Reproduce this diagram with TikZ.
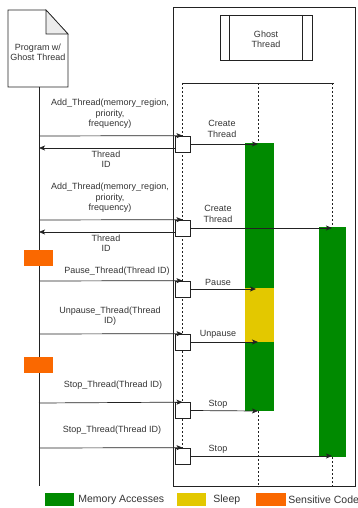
\documentclass[tikz,border=0pt]{standalone}
\usepackage{fontspec}
\setmainfont{Liberation Sans}
\usetikzlibrary{arrows.meta}
\definecolor{memgreen}{HTML}{008A00}
\definecolor{sleepyellow}{HTML}{E3C800}
\definecolor{sensorange}{HTML}{FA6800}
\definecolor{txt}{HTML}{333333}
\definecolor{ln}{HTML}{222222}
\begin{document}
\begin{tikzpicture}[x=1pt,y=-1pt,
  line width=0.7pt, draw=ln,
  msg/.style={draw=ln, -{Stealth[length=6pt,width=5pt,inset=1.5pt]}},
  lbl/.style={font=\fontsize{9}{10.4}\selectfont, text=txt, align=center, inner sep=0pt},
  leg/.style={font=\fontsize{10.5}{12}\selectfont, text=txt, anchor=west, inner sep=0pt},
  act/.style={draw=ln, fill=white, minimum width=15pt, minimum height=16pt, inner sep=0pt},
  life/.style={draw=ln, line width=0.6pt, dash pattern=on 2pt off 2pt},
  orangebox/.style={fill=sensorange, draw=none, minimum width=29pt, minimum height=16pt, inner sep=0pt}
]
\useasboundingbox (0,0) rectangle (357,508);

% program document shape
\draw[fill=white] (8,10) -- (46,10) -- (68,34) -- (68,87) -- (8,87) -- cycle;
\draw[fill=gray!15] (46,10) -- (46,34) -- (68,34) -- cycle;
\node[lbl] (prog) at (38,52.5) {Program w/\\Ghost Thread};
\coordinate (progtop) at (39,87);
\coordinate (progbot) at (39,486);
\draw (progtop) -- (progbot);

% ghost thread container
\draw (173.5,7) rectangle (355,486);
\draw (220,15) rectangle (312,60);
\draw (229,15) -- (229,60);
\draw (302,15) -- (302,60);
\node[lbl] (ghost) at (266,39) {Ghost\\Thread};
\draw (182,83) -- (334,83);

% dashed lifelines
\draw[life] (182,83) -- (182,456);
\draw[life] (258,83) -- (258,143);
\draw[life] (258,411) -- (258,487);
\draw[life] (332,83) -- (332,227);
\draw[life] (332,457) -- (332,487);

% bars
\fill[memgreen] (245,143) rectangle (274,411);
\fill[sleepyellow] (245,288) rectangle (274,342);
\fill[memgreen] (319,227) rectangle (346,457);

% target coordinates
\coordinate (t1) at (258,144);
\coordinate (t2) at (332,228);
\coordinate (t3) at (256,289);
\coordinate (t4) at (258,342);
\coordinate (t5) at (258,411);
\coordinate (t6) at (332,456);

% activation boxes
\node[act] (b1) at (182.5,144) {};
\node[act] (b2) at (182.5,228) {};
\node[act] (b3) at (182.5,289) {};
\node[act] (b4) at (182.5,342) {};
\node[act] (b5) at (182.5,410.5) {};
\node[act] (b6) at (182.5,456) {};

% program-side coordinates
\coordinate (p1) at (39,136);
\coordinate (p1r) at (39,148);
\coordinate (b1r) at (175,148);
\coordinate (p2) at (39,220);
\coordinate (p2r) at (39,232);
\coordinate (b2r) at (175,232);
\coordinate (p3) at (39,281);
\coordinate (p4) at (39,334);
\coordinate (p5) at (39,403);
\coordinate (p6) at (39,448);

% calls
\draw[msg] (p1) -- (b1.north);
\draw[msg] (b1r) -- (p1r);
\draw[msg] (p2) -- (b2.north);
\draw[msg] (b2r) -- (p2r);
\draw[msg] (p3) -- (b3.north);
\draw[msg] (p4) -- (b4.north);
\draw[msg] (p5) -- (b5.north);
\draw[msg] (p6) -- (b6.north);

% forwarded
\draw[msg] (b1.east) -- (t1);
\draw[msg] (b2.east) -- (t2);
\draw[msg] (b3.east) -- (t3);
\draw[msg] (b4.east) -- (t4);
\draw[msg] (b5.east) -- (t5);
\draw[msg] (b6.east) -- (t6);

% labels
\node[lbl] (l1) at (110,114) {Add\_Thread(memory\_region,\\priority,\\frequency)};
\node[lbl] (l1r) at (106,159) {Thread\\ID};
\node[lbl] (l2) at (110,198) {Add\_Thread(memory\_region,\\priority,\\frequency)};
\node[lbl] (l2r) at (106,243) {Thread\\ID};
\node[lbl] (l3) at (117,271) {Pause\_Thread(Thread ID)};
\node[lbl] (l4) at (110,316) {Unpause\_Thread(Thread\\ID)};
\node[lbl] (l5) at (113,385) {Stop\_Thread(Thread ID)};
\node[lbl] (l6) at (112,430) {Stop\_Thread(Thread ID)};

\node[lbl] (c1) at (222,129) {Create\\Thread};
\node[lbl] (c2) at (218,214) {Create\\Thread};
\node[lbl] (c3) at (218,282) {Pause};
\node[lbl] (c4) at (218,334) {Unpause};
\node[lbl] (c5) at (218,404) {Stop};
\node[lbl] (c6) at (218,449) {Stop};

% sensitive code markers
\node[orangebox] (s1) at (38.5,258) {};
\node[orangebox] (s2) at (38.5,365) {};

% legend
\fill[memgreen] (45,493) rectangle (74,506);
\node[leg] (lg1) at (78,499.5) {Memory Accesses};
\fill[sleepyellow] (177,493) rectangle (206,506);
\node[leg] (lg2) at (213,499.5) {Sleep};
\fill[sensorange] (256,493) rectangle (286,506);
\node[leg] (lg3) at (288,499.5) {Sensitive Code};
\end{tikzpicture}
\end{document}
